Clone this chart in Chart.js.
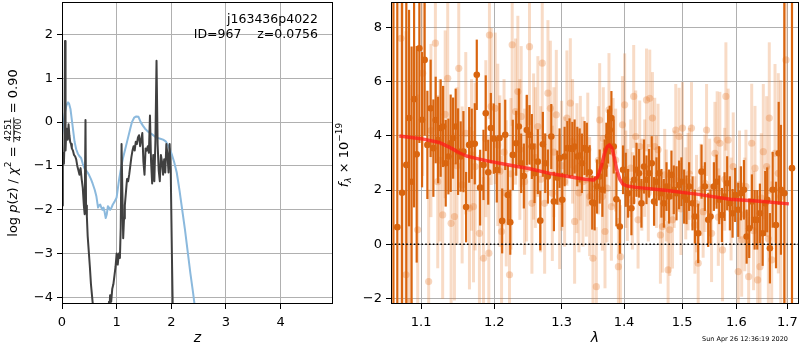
<!DOCTYPE html>
<html>
<head>
<meta charset="utf-8">
<script src="https://cdn.jsdelivr.net/npm/chart.js@4.4.0/dist/chart.umd.min.js"></script>
<style>
	html, body { margin: 0; padding: 0; background: #fff; }
	#wrap { position: relative; width: 800px; height: 350px; overflow: hidden; }
	canvas { position: absolute; top: 0; }
	#pz { left: 0; }
	#spec { left: 330px; }
</style>
</head>
<body>
<div id="wrap">
	<canvas id="pz" width="340" height="350"></canvas>
	<canvas id="spec" width="470" height="350"></canvas>
</div>
<script>
	// left panel: log p(z) (black) and chi2 curve (blue)
	var zBlack = [
		0.005, 0.015, 0.025, 0.035, 0.045, 0.055, 0.065, 0.075, 0.09, 0.105,
		0.12, 0.135, 0.15, 0.165, 0.18, 0.2, 0.22, 0.24, 0.26, 0.28,
		0.30, 0.32, 0.34, 0.36, 0.38, 0.40, 0.415, 0.43, 0.44, 0.455,
		0.47, 0.49, 0.51, 0.53, 0.56, 0.60, 0.70, 0.80, 0.86, 0.87,
		0.88, 0.90, 0.92, 0.94, 0.96, 0.98, 1.00, 1.02, 1.04, 1.06,
		1.075, 1.09, 1.105, 1.12, 1.135, 1.15, 1.17, 1.19, 1.21, 1.23,
		1.25, 1.27, 1.29, 1.31, 1.33, 1.35, 1.37, 1.39, 1.41, 1.43,
		1.45, 1.47, 1.49, 1.51, 1.53, 1.55, 1.57, 1.59, 1.61, 1.63,
		1.65, 1.67, 1.69, 1.71, 1.73, 1.75, 1.77, 1.79, 1.81, 1.83,
		1.85, 1.87, 1.89, 1.91, 1.93, 1.95, 1.97, 1.99, 2.01, 2.03,
		2.06
	];
	var pBlack = [
		-1.9, -0.9, -0.7, -0.95, -0.5, 1.85, -0.65, -0.3, -0.15, -0.4,
		-0.05, -0.3, -0.45, -0.5, -0.6, -0.65, -0.75, -0.78, -0.85, -1.0,
		-1.1, -1.2, -1.05, -1.3, -1.5, -1.9, -2.1, 0.05, -1.9, -2.15,
		-2.6, -2.95, -3.3, -3.7, -4.1, -4.6, -5.5, -5.0, -4.1, -4.25,
		-3.95, -4.1, -3.8, -3.7, -3.5, -3.3, -3.0, -3.25, -3.0, -3.1,
		-2.4, -0.5, -1.6, -2.65, -2.2, -1.9, -1.6, -1.3, -1.35, -1.2,
		-1.0, -0.8, -0.65, -0.55, -0.65, -0.45, -0.5, -0.35, -0.3, -0.55,
		-0.4, -0.25, -0.9, -1.2, -0.6, -0.65, -0.55, -0.7, 0.15, -0.9,
		-1.4, -0.75, -1.35, -0.4, 1.4, -0.5, -1.1, -1.35, -0.75, -0.9,
		-1.2, -0.85, -1.15, -0.5, -0.75, -1.15, -0.5, -1.1, -2.9, -4.5,
		-6.0
	];
	var zBlue = [
		0.0, 0.02, 0.05, 0.08, 0.11, 0.13, 0.155, 0.18, 0.2, 0.23,
		0.26, 0.29, 0.32, 0.35, 0.38, 0.41, 0.44, 0.47, 0.5, 0.53,
		0.56, 0.6, 0.63, 0.66, 0.68, 0.7, 0.72, 0.74, 0.76, 0.78,
		0.8, 0.82, 0.84, 0.86, 0.88, 0.9, 0.93, 0.96, 1.0, 1.04,
		1.08, 1.12, 1.16, 1.2, 1.24, 1.28, 1.32, 1.36, 1.4, 1.44,
		1.48, 1.52, 1.56, 1.6, 1.65, 1.7, 1.75, 1.8, 1.85, 1.9,
		1.95, 2.0, 2.05, 2.1, 2.15, 2.2, 2.25, 2.3, 2.35, 2.4,
		2.45, 2.5
	];
	var pBlue = [
		-0.3, -0.1, 0.2, 0.38, 0.45, 0.42, 0.3, 0.05, -0.15, -0.45,
		-0.62, -0.72, -0.78, -0.82, -0.95, -1.05, -1.1, -1.15, -1.22, -1.3,
		-1.4, -1.55, -1.7, -1.95, -1.9, -1.88, -1.95, -2.0, -1.95, -2.05,
		-2.19, -2.1, -1.92, -1.95, -2.0, -1.97, -1.88, -1.82, -1.72, -1.35,
		-1.05, -0.8, -0.6, -0.4, -0.2, 0.0, 0.1, 0.13, 0.12, 0.0,
		-0.08, -0.15, -0.2, -0.24, -0.28, -0.33, -0.36, -0.38, -0.4, -0.44,
		-0.55, -0.7, -0.9, -1.15, -1.55, -2.0, -2.45, -2.95, -3.45, -3.9,
		-4.4, -5.0
	];

	// right panel: spectrum, dark points
	var lamDark = [
		1.0645, 1.0694, 1.0755, 1.0809, 1.0844, 1.0877, 1.0909, 1.0943, 1.0978, 1.1013,
		1.1047, 1.1083, 1.1126, 1.1162, 1.1193, 1.1225, 1.1259, 1.1292, 1.1327, 1.1363,
		1.1394, 1.1427, 1.1462, 1.1495, 1.1530, 1.1568, 1.1605, 1.1647, 1.1683, 1.1725,
		1.1753, 1.1800, 1.1847, 1.1879, 1.1914, 1.1951, 1.1993, 1.2036, 1.2075, 1.2113,
		1.2157, 1.2195, 1.2230, 1.2267, 1.2317, 1.2355, 1.2390, 1.2429, 1.2473, 1.2513,
		1.2548, 1.2588, 1.2637, 1.2674, 1.2713, 1.2749, 1.2789, 1.2841, 1.2881, 1.2933,
		1.2968, 1.3010, 1.3046, 1.3088, 1.3123, 1.3166, 1.3202, 1.3244, 1.3281, 1.3317,
		1.3359, 1.3395, 1.3440, 1.3481, 1.3520, 1.3558, 1.3601, 1.3645, 1.3682, 1.3710,
		1.3737, 1.3765, 1.3792, 1.3830, 1.3874, 1.3930, 1.3984, 1.4029, 1.4068, 1.4124,
		1.4168, 1.4209, 1.4253, 1.4293, 1.4337, 1.4379, 1.4423, 1.4469, 1.4509, 1.4551,
		1.4596, 1.4637, 1.4678, 1.4725, 1.4770, 1.4812, 1.4853, 1.4901, 1.4947, 1.4989,
		1.5037, 1.5079, 1.5126, 1.5187, 1.5231, 1.5290, 1.5351, 1.5412, 1.5473, 1.5516,
		1.5578, 1.5628, 1.5677, 1.5727, 1.5777, 1.5826, 1.5877, 1.5928, 1.5977, 1.6035,
		1.6086, 1.6144, 1.6196, 1.6246, 1.6298, 1.6351, 1.6402, 1.6454, 1.6508, 1.6558,
		1.6597, 1.6650, 1.6705, 1.6771, 1.6825, 1.6870, 1.6938, 1.7093
	];
	var fluxDark = [
		-3.0, 0.63, 1.9, 2.93, 4.66, 2.31, 5.36, 3.32, 7.24, 4.6,
		6.81, 3.67, 5.02, 3.55, 4.59, 3.85, 4.29, 4.35, 2.99, 3.24,
		3.73, 3.92, 4.35, 3.42, 3.24, 3.42, 1.37, 3.67, 3.71, 3.71,
		6.26, 2.09, 2.93, 4.84, 2.66, 4.29, 3.9, 2.74, 3.92, 0.86,
		4.04, 1.82, 0.81, 3.30, 3.73, 4.35, 2.99, 2.52, 4.22, 4.04,
		3.61, 2.62, 3.05, 0.87, 3.69, 2.99, 2.50, 3.98, 1.58, 2.46,
		3.18, 1.64, 3.24, 3.55, 3.55, 3.52, 3.61, 3.24, 3.28, 2.99,
		3.55, 3.49, 2.66, 1.54, 1.51, 2.13, 2.50, 2.01, 2.87, 3.49,
		3.98, 4.22, 4.66, 3.61, 1.66, 0.65, 2.75, 2.38, 1.88, 1.33,
		2.38, 2.75, 2.62, 1.51, 2.87, 2.38, 2.62, 2.99, 1.58, 2.31,
		2.62, 1.88, 1.51, 2.13, 1.76, 2.56, 2.01, 1.88, 2.19, 2.31,
		1.76, 1.64, 2.13, 1.51, 1.02, 0.40, 2.68, 2.13, 0.90, 1.02,
		2.13, 2.31, 1.64, 1.08, 1.76, 2.25, 1.51, 1.14, 1.82, 1.27,
		1.88, 2.01, 0.28, 0.59, 1.58, 0.90, 0.90, 1.14, 0.40, 1.51,
		1.64, -0.15, 2.01, 0.71, 3.36, 2.01, 1.88, 2.81
	];
	var errDark = [
		15, 15, 12, 7, 4, 5, 4, 4, 3.5, 2.5,
		2.8, 2.0, 1.8, 1.8, 1.6, 1.6, 1.8, 1.5, 1.6, 1.4,
		1.8, 1.5, 1.4, 1.6, 1.3, 1.5, 1.3, 1.4, 1.3, 1.5,
		1.3, 1.4, 1.3, 1.4, 1.2, 1.3, 1.3, 1.2, 1.3, 1.2,
		1.3, 1.1, 1.2, 1.3, 1.2, 1.4, 1.1, 1.2, 1.3, 1.1,
		1.2, 1.1, 1.2, 1.1, 1.2, 1.1, 1.0, 1.2, 1.1, 1.0,
		1.1, 1.0, 1.1, 1.0, 1.1, 1.0, 1.0, 1.1, 1.0, 1.1,
		1.0, 1.0, 1.0, 1.0, 1.0, 1.0, 1.0, 1.0, 1.0, 1.0,
		1.0, 0.9, 1.0, 1.0, 1.0, 1.0, 0.9, 1.0, 0.9, 1.0,
		0.9, 1.0, 0.9, 0.9, 1.0, 0.9, 0.9, 1.0, 0.9, 0.9,
		1.0, 0.9, 0.9, 0.9, 1.0, 0.9, 0.9, 1.0, 0.9, 0.9,
		1.0, 0.9, 0.9, 1.0, 1.0, 1.1, 1.0, 0.9, 1.0, 1.0,
		0.9, 1.0, 0.9, 1.0, 0.9, 1.0, 1.0, 0.9, 1.0, 1.0,
		1.0, 1.1, 1.0, 1.1, 1.0, 1.1, 1.1, 1.1, 1.2, 1.2,
		1.2, 1.3, 1.4, 1.6, 1.9, 2.4, 15, 15
	];

	// right panel: spectrum, light points
	var lamLight = [
		1.0741, 1.0805, 1.0848, 1.0956, 1.1021, 1.1100, 1.1189, 1.1220, 1.1286, 1.1354,
		1.1400, 1.1445, 1.1504, 1.1550, 1.1651, 1.1707, 1.1730, 1.1790, 1.1847, 1.1922,
		1.1931, 1.1956, 1.2013, 1.2050, 1.2104, 1.2172, 1.2219, 1.2258, 1.2307, 1.2341,
		1.2390, 1.2440, 1.2513, 1.2549, 1.2574, 1.2638, 1.2704, 1.2740, 1.2790, 1.2827,
		1.2857, 1.2918, 1.2969, 1.3046, 1.3082, 1.3135, 1.3202, 1.3238, 1.3292, 1.3333,
		1.3387, 1.3440, 1.3493, 1.3547, 1.3601, 1.3645, 1.3687, 1.3720, 1.3752, 1.3792,
		1.3862, 1.3907, 1.3940, 1.3974, 1.4011, 1.4056, 1.4112, 1.4162, 1.4196, 1.4236,
		1.4264, 1.4349, 1.4379, 1.4435, 1.4481, 1.4520, 1.4578, 1.4619, 1.4654, 1.4694,
		1.4753, 1.4782, 1.4830, 1.4888, 1.4947, 1.5007, 1.5066, 1.5108, 1.5169, 1.5230,
		1.5290, 1.5339, 1.5412, 1.5443, 1.5535, 1.5597, 1.5639, 1.5689, 1.5739, 1.5802,
		1.5845, 1.5940, 1.6035, 1.6101, 1.6183, 1.6235, 1.6294, 1.6358, 1.6410, 1.6455,
		1.6520, 1.6586, 1.6638, 1.6686, 1.6751, 1.6817, 1.6866, 1.6972,
		1.1130, 1.1250, 1.1320, 1.1480, 1.1600, 1.1680, 1.1880, 1.2080, 1.2140, 1.2240,
		1.2370, 1.2470, 1.2600, 1.2680, 1.2880, 1.3000, 1.3170, 1.3270, 1.3410, 1.3580,
		1.3660, 1.3820, 1.4030, 1.4140, 1.4300, 1.4410, 1.4550, 1.4720, 1.4860, 1.4980,
		1.5130, 1.5260, 1.5380, 1.5500, 1.5660, 1.5780, 1.5900, 1.6060, 1.6160, 1.6330,
		1.6480, 1.6620
	];
	var fluxLight = [
		7.61, -1.13, -2.12, 0.53, 6.32, -1.38, 7.43, 2.31, 1.08, 6.13,
		0.77, 1.02, 6.50, 2.19, 1.33, 1.39, 2.87, 0.40, -0.52, -0.33,
		7.73, 5.09, 5.02, 3.67, 0.47, 1.88, -1.13, 7.37, 4.90, 5.64,
		4.72, 2.31, 7.30, 1.51, 3.61, 4.35, 6.69, 1.51, 5.58, 5.02,
		1.88, 4.78, 1.58, 2.31, 4.66, 5.21, 0.84, 2.81, 3.18, 2.31,
		2.38, 1.76, -0.52, -1.57, 4.59, 1.76, 0.47, 2.07, 4.96, 1.39,
		3.11, -0.83, -0.46, 4.41, 5.15, 1.82, 2.81, 5.46, 3.98, 0.90,
		3.61, 2.81, 5.33, 5.39, 4.66, 3.61, 3.49, 0.34, 0.65, 2.56,
		-0.95, 0.53, 0.90, 4.22, 3.98, 4.29, 1.88, 2.31, 4.29, 0.71,
		-0.70, 2.01, 2.25, 4.22, 0.40, 3.36, 3.85, 3.73, -0.21, 5.46,
		3.85, 2.87, -1.01, 0.16, 2.13, -1.20, 3.73, 2.81, -1.32, -0.83,
		3.42, 2.87, 4.66, -0.58, 3.36, 2.62, 1.76, 6.81,
		4.2, 3.1, 4.8, 2.9, 4.1, 3.3, 3.9, 2.7, 3.4, 2.6,
		3.5, 2.8, 3.2, 2.4, 3.4, 2.9, 3.8, 1.9, 3.5, 3.1,
		3.9, 3.4, 2.4, 1.6, 2.2, 1.9, 2.3, 1.8, 2.4, 1.3,
		2.6, 1.5, 1.2, 2.1, 1.0, 2.4, 1.3, 2.2, 1.1, 0.5,
		1.7, 0.2
	];
	var errLight = [
		10, 9, 8, 5, 3.8, 3.4, 3.2, 3.2, 3.1, 3.2,
		3.0, 3.1, 3.2, 2.9, 3.0, 2.8, 3.1, 2.9, 3.0, 2.8,
		3.1, 2.9, 2.8, 3.0, 2.8, 2.7, 2.9, 3.0, 2.7, 2.8,
		2.6, 2.7, 2.9, 2.6, 2.7, 2.6, 2.8, 2.6, 2.7, 2.5,
		2.5, 2.4, 2.5, 2.4, 2.5, 2.4, 2.3, 2.4, 2.3, 2.4,
		2.1, 2.2, 2.1, 2.2, 2.1, 2.0, 2.1, 2.0, 2.1, 2.0,
		1.9, 1.8, 1.9, 1.8, 1.9, 1.7, 1.8, 1.9, 1.7, 1.8,
		1.7, 1.8, 1.9, 1.8, 1.7, 1.8, 1.7, 1.8, 1.7, 1.7,
		1.8, 1.7, 1.8, 1.7, 1.8, 1.7, 1.7, 1.8, 1.7, 1.8,
		1.8, 1.7, 1.8, 1.7, 1.8, 1.9, 1.8, 1.9, 1.9, 2.0,
		1.9, 2.0, 2.0, 2.1, 2.1, 2.2, 2.2, 2.3, 2.3, 2.4,
		2.5, 2.6, 2.8, 2.9, 3.3, 3.7, 4.3, 9.0,
		3.2, 3.0, 3.1, 2.9, 3.0, 2.8, 2.9, 2.8, 2.7, 2.8,
		2.6, 2.7, 2.6, 2.7, 2.4, 2.4, 2.3, 2.2, 2.1, 2.0,
		1.9, 2.0, 1.8, 1.8, 1.7, 1.8, 1.7, 1.7, 1.8, 1.7,
		1.7, 1.8, 1.7, 1.8, 1.8, 1.9, 1.9, 2.0, 2.1, 2.2,
		2.4, 2.7
	];

	// right panel: best-fit model
	var lamModel = [
		1.072, 1.10, 1.124, 1.14, 1.151, 1.161, 1.173, 1.19, 1.221, 1.25,
		1.285, 1.31, 1.336, 1.350, 1.357, 1.363, 1.368, 1.372, 1.376, 1.380,
		1.384, 1.388, 1.393, 1.398, 1.405, 1.42, 1.466, 1.526, 1.588, 1.652,
		1.703
	];
	var fluxModel = [
		4.0, 3.9, 3.76, 3.55, 3.38, 3.26, 3.18, 3.08, 2.93, 2.8,
		2.6, 2.5, 2.4, 2.37, 2.5, 2.9, 3.35, 3.6, 3.67, 3.55,
		3.2, 2.75, 2.4, 2.22, 2.15, 2.1, 2.0, 1.85, 1.66, 1.58,
		1.49
	];

	// axes
	var zTicks = [ 0, 1, 2, 3, 4 ];
	var lamTicks = [ 1.1, 1.2, 1.3, 1.4, 1.5, 1.6, 1.7 ];
	var zRange = [ 0, 4.96 ];
	var pRange = [ -4.15, 2.74 ];
	var lamRange = [ 1.0614, 1.7236 ];
	var fluxRange = [ -2.21, 8.95 ];

	var GRID = '#b0b0b0';
	var DARK = '#d9650f';

	Chart.defaults.font.family = "'DejaVu Sans', sans-serif";
	Chart.defaults.color = '#000';

	/**
	 * Pair two arrays into points.
	 */
	function pts( xs, ys ) {
		return xs.map( function( x, i ) {
			return { x: x, y: ys[i] };
		} );
	}

	/**
	 * Tick label with a real minus sign.
	 */
	function fmt( v ) {
		return v < 0 ? '\u2212' + Math.abs( v ) : '' + v;
	}

	/**
	 * Fixed axis box, no extra label padding.
	 */
	function fixBox( w, h ) {
		return function( scale ) {
			if ( w )
				scale.width = w;
			if ( h )
				scale.height = h;
			scale.paddingTop = 0;
			scale.paddingBottom = 0;
			scale.paddingLeft = 0;
			scale.paddingRight = 0;
		};
	}

	/**
	 * Draw a rotated line of mixed text (italics, sub/superscripts, fraction).
	 */
	function drawRich( ctx, parts, cx, cy ) {
		ctx.save();
		ctx.translate( cx, cy );
		ctx.rotate( -Math.PI / 2 );
		ctx.textBaseline = 'middle';
		ctx.fillStyle = '#000';

		var total = 0;
		parts.forEach( function( p ) {
			ctx.font = p.font;
			if ( p.frac )
				p.w = Math.max( ctx.measureText( p.frac[0] ).width, ctx.measureText( p.frac[1] ).width ) + 2;
			else
				p.w = ctx.measureText( p.text ).width;
			total += p.w;
		} );

		var x = -total / 2;
		parts.forEach( function( p ) {
			ctx.font = p.font;
			if ( p.frac ) {
				ctx.textAlign = 'center';
				ctx.fillText( p.frac[0], x + p.w / 2, -5.5 );
				ctx.fillText( p.frac[1], x + p.w / 2, 5 );
				ctx.fillRect( x, -0.6, p.w, 0.8 );
			} else {
				ctx.textAlign = 'left';
				ctx.fillText( p.text, x, p.dy || 0 );
			}
			x += p.w;
		} );
		ctx.restore();
	}

	/**
	 * Vertical error bars, drawn right before the points of their dataset.
	 */
	var errorBars = {
		id: 'errorBars',
		beforeDatasetDraw: function( chart, args ) {
			var ds = chart.data.datasets[args.index];
			if ( ! ds.errors )
				return;

			var ctx = chart.ctx;
			var a = chart.chartArea;
			var xs = chart.scales.x;
			var ys = chart.scales.y;

			ctx.save();
			ctx.beginPath();
			ctx.rect( a.left, a.top, a.right - a.left, a.bottom - a.top );
			ctx.clip();
			ctx.strokeStyle = ds.barColor;
			ctx.lineWidth = ds.barWidth;

			ds.data.forEach( function( p, i ) {
				var px = xs.getPixelForValue( p.x );
				ctx.beginPath();
				ctx.moveTo( px, ys.getPixelForValue( p.y - ds.errors[i] ) );
				ctx.lineTo( px, ys.getPixelForValue( p.y + ds.errors[i] ) );
				ctx.stroke();
			} );
			ctx.restore();
		}
	};

	/**
	 * Black box round the plot area.
	 */
	var frame = {
		id: 'frame',
		afterDraw: function( chart ) {
			var a = chart.chartArea;
			var ctx = chart.ctx;
			ctx.save();
			ctx.strokeStyle = '#000';
			ctx.lineWidth = 1;
			ctx.strokeRect( Math.round( a.left ) + 0.5, Math.round( a.top ) + 0.5, Math.round( a.right - a.left ) - 1, Math.round( a.bottom - a.top ) - 1 );
			ctx.restore();
		}
	};

	/**
	 * Shared axis setup.
	 */
	function axis( range, extra ) {
		var cfg = {
			min: range[0],
			max: range[1],
			border: { display: false },
			grid: { color: GRID, lineWidth: 1, tickColor: '#000', tickLength: 5 }
		};
		return Object.assign( cfg, extra );
	}

	var xTitle = function( t ) {
		return { display: true, text: t, color: '#000', font: { size: 14, style: 'italic' }, padding: { top: 0, bottom: 3 } };
	};

	// left chart
	new Chart( document.getElementById( 'pz' ), {
		type: 'scatter',
		data: {
			datasets: [
				{
					data: pts( zBlack, pBlack ),
					showLine: true,
					borderColor: '#404040',
					borderWidth: 2,
					borderJoinStyle: 'round',
					pointRadius: 0,
					tension: 0
				},
				{
					data: pts( zBlue, pBlue ),
					showLine: true,
					borderColor: '#8bb9dd',
					borderWidth: 2,
					borderJoinStyle: 'round',
					pointRadius: 0,
					tension: 0
				}
			]
		},
		options: {
			responsive: false,
			animation: false,
			devicePixelRatio: 1,
			layout: { autoPadding: false, padding: { top: 2, right: 7, bottom: 0, left: 0 } },
			plugins: { legend: { display: false }, tooltip: { enabled: false } },
			scales: {
				x: axis( zRange, {
					type: 'linear',
					ticks: { font: { size: 13 }, color: '#000', padding: 6, maxRotation: 0, includeBounds: false, stepSize: 1, callback: fmt },
					afterBuildTicks: function( scale ) {
						scale.ticks = zTicks.map( function( v ) { return { value: v }; } );
					},
					title: xTitle( 'z' ),
					afterFit: fixBox( 0, 46 )
				} ),
				y: axis( pRange, {
					type: 'linear',
					ticks: { font: { size: 13 }, color: '#000', padding: 4, includeBounds: false, stepSize: 1, callback: fmt },
					afterFit: fixBox( 62, 0 )
				} )
			}
		},
		plugins: [ frame, {
			id: 'pzText',
			afterDraw: function( chart ) {
				var ctx = chart.ctx;
				ctx.save();
				ctx.fillStyle = '#000';
				ctx.font = "12.5px 'DejaVu Sans'";
				ctx.textAlign = 'right';
				ctx.textBaseline = 'middle';
				ctx.fillText( 'j163436p4022', 318, 20 );
				ctx.fillText( 'ID=967    z=0.0756', 318, 35 );
				ctx.restore();

				var f = "13px 'DejaVu Sans'";
				var fi = "italic 13px 'DejaVu Sans'";
				var fs = "9px 'DejaVu Sans'";
				drawRich( ctx, [
					{ text: 'log ', font: f },
					{ text: 'p', font: fi },
					{ text: '(', font: f },
					{ text: 'z', font: fi },
					{ text: ') / ', font: f },
					{ text: '\u03c7', font: fi },
					{ text: '2', font: fs, dy: -5 },
					{ text: ' = ', font: f },
					{ frac: [ '4251', '4700' ], font: fs },
					{ text: ' = 0.90', font: f }
				], 14, 153 );
			}
		} ]
	} );

	// right chart
	new Chart( document.getElementById( 'spec' ), {
		type: 'scatter',
		data: {
			datasets: [
				{
					data: [ { x: lamRange[0], y: 0 }, { x: lamRange[1], y: 0 } ],
					showLine: true,
					borderColor: '#000',
					borderWidth: 1.6,
					borderDash: [ 1.6, 2.2 ],
					pointRadius: 0
				},
				{
					data: pts( lamModel, fluxModel ),
					showLine: true,
					borderColor: 'rgba(255, 25, 25, 0.75)',
					borderWidth: 3.5,
					borderJoinStyle: 'round',
					pointRadius: 0,
					tension: 0
				},
				{
					data: pts( lamDark, fluxDark ),
					errors: errDark,
					barColor: DARK,
					barWidth: 2.2,
					pointRadius: 3.3,
					pointBorderWidth: 0,
					pointBackgroundColor: DARK
				},
				{
					data: pts( lamLight, fluxLight ),
					errors: errLight,
					barColor: 'rgba(230, 125, 50, 0.28)',
					barWidth: 3,
					pointRadius: 3.6,
					pointBorderWidth: 0,
					pointBackgroundColor: 'rgba(230, 125, 50, 0.32)'
				}
			]
		},
		options: {
			responsive: false,
			animation: false,
			devicePixelRatio: 1,
			layout: { autoPadding: false, padding: { top: 2, right: 1, bottom: 0, left: 0 } },
			plugins: { legend: { display: false }, tooltip: { enabled: false } },
			scales: {
				x: axis( lamRange, {
					type: 'logarithmic',
					ticks: { font: { size: 13 }, color: '#000', padding: 6, maxRotation: 0, autoSkip: false, callback: function( v ) { return Number( v ).toFixed( 1 ); } },
					afterBuildTicks: function( scale ) {
						scale.ticks = lamTicks.map( function( v ) { return { value: v }; } );
					},
					title: xTitle( '\u03bb' ),
					afterFit: fixBox( 0, 46 )
				} ),
				y: axis( fluxRange, {
					type: 'linear',
					ticks: { font: { size: 13 }, color: '#000', padding: 4, includeBounds: false, stepSize: 2, callback: fmt },
					afterFit: fixBox( 61, 0 )
				} )
			}
		},
		plugins: [ errorBars, frame, {
			id: 'specText',
			afterDraw: function( chart ) {
				var ctx = chart.ctx;
				drawRich( ctx, [
					{ text: 'f', font: "italic 13px 'DejaVu Sans'" },
					{ text: '\u03bb', font: "italic 9px 'DejaVu Sans'", dy: 3.5 },
					{ text: ' \u00d7 10', font: "13px 'DejaVu Sans'" },
					{ text: '\u221219', font: "9px 'DejaVu Sans'", dy: -5 }
				], 15, 155 );

				ctx.save();
				ctx.fillStyle = '#000';
				ctx.font = "6.5px 'DejaVu Sans'";
				ctx.textAlign = 'right';
				ctx.textBaseline = 'middle';
				ctx.fillText( 'Sun Apr 26 12:36:19 2020', 458, 339 );
				ctx.restore();
			}
		} ]
	} );
</script>
</body>
</html>
